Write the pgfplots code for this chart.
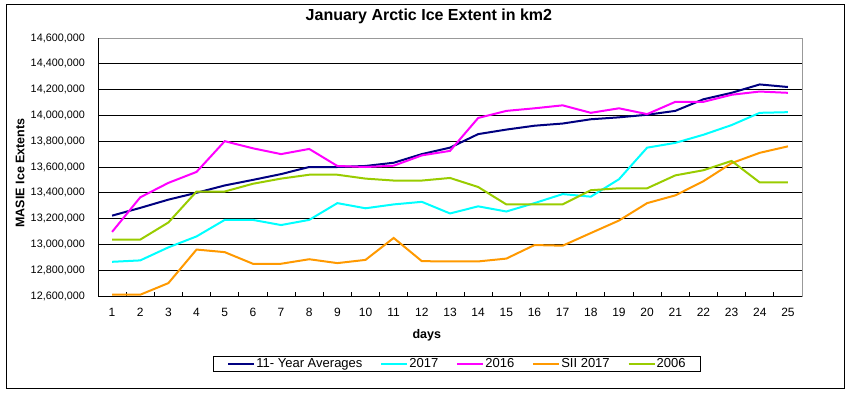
\documentclass[border=0pt]{standalone}
\usepackage{fontspec}
\setmainfont{Liberation Sans}
\usepackage{pgfplots}
\pgfplotsset{compat=1.18}
\definecolor{cavg}{RGB}{0,0,128}
\definecolor{c2017}{RGB}{0,255,255}
\definecolor{c2016}{RGB}{255,0,255}
\definecolor{csii}{RGB}{255,153,0}
\definecolor{c2006}{RGB}{153,204,0}
\begin{document}
\begin{tikzpicture}
\useasboundingbox (0pt,0pt) rectangle (861pt,394pt);
\draw[black, line width=1pt] (6pt,6pt) rectangle (844pt,389pt);
\begin{axis}[
  at={(98pt,98pt)}, anchor=south west,
  scale only axis, width=704pt, height=258pt,
  xmin=0.5, xmax=25.5, ymin=12600000, ymax=14600000,
  xtick={1,...,25},
  minor xtick={1.5,2.5,...,24.5},
  ytick={12600000,12800000,13000000,13200000,13400000,13600000,13800000,14000000,14200000,14400000,14600000},
  xtick pos=left, ytick pos=left,
  major tick length=0pt, minor tick length=4pt,
  minor tick style={black, line width=0.8pt},
  ymajorgrids=true,
  major grid style={black, line width=0.8pt},
  axis line style={draw=gray!80, line width=1pt},
  scaled y ticks=false,
  /pgf/number format/assume math mode=true,
  yticklabel style={/pgf/number format/fixed, /pgf/number format/1000 sep={,}, anchor=east, inner sep=0pt, xshift=-13pt, font=\fontsize{10.8}{12}\selectfont},
  xticklabel style={anchor=center, yshift=-16pt, font=\fontsize{12}{14}\selectfont},
  title={January Arctic Ice Extent in km2},
  title style={font=\bfseries\fontsize{16}{19}\selectfont, at={(axis description cs:0.47,1)}, anchor=center, yshift=16pt},
  xlabel={days},
  xlabel style={font=\bfseries\fontsize{12.5}{15}\selectfont, at={(axis description cs:0.467,0)}, anchor=center, yshift=-39pt},
  ylabel={MASIE Ice Extents},
  ylabel style={font=\bfseries\fontsize{12.5}{15}\selectfont, at={(axis description cs:-0.1108,0.477)}, anchor=center},
  legend columns=5,
  legend cell align=left,
  legend image code/.code={\draw[#1] (0pt,0pt) -- (26pt,0pt);},
  legend style={at={(axis description cs:0.51,0)}, yshift=-68pt, anchor=center,
    draw=black, line width=1pt, inner xsep=14pt, inner ysep=1pt,
    font=\fontsize{13}{15}\selectfont,
    nodes={inner sep=1pt},
    /tikz/every even column/.append style={column sep=17pt}},
  every axis plot/.append style={line width=2pt},
]
\draw[black, line width=1pt] (rel axis cs:0,1) -- (rel axis cs:0,0) -- (rel axis cs:1,0);
\addplot[cavg] coordinates {(1,13223000)(2,13283000)(3,13347000)(4,13400000)(5,13457000)(6,13500000)(7,13545000)(8,13600000)(9,13600000)(10,13608000)(11,13633000)(12,13700000)(13,13750000)(14,13855000)(15,13890000)(16,13920000)(17,13937000)(18,13970000)(19,13985000)(20,14005000)(21,14035000)(22,14125000)(23,14175000)(24,14240000)(25,14220000)};
\addlegendentry{11- Year Averages}
\addplot[c2017] coordinates {(1,12865000)(2,12876000)(3,12977000)(4,13062000)(5,13190000)(6,13190000)(7,13150000)(8,13190000)(9,13320000)(10,13280000)(11,13310000)(12,13330000)(13,13240000)(14,13295000)(15,13255000)(16,13320000)(17,13390000)(18,13370000)(19,13505000)(20,13750000)(21,13787000)(22,13850000)(23,13925000)(24,14020000)(25,14025000)};
\addlegendentry{2017}
\addplot[c2016] coordinates {(1,13097000)(2,13365000)(3,13477000)(4,13562000)(5,13800000)(6,13745000)(7,13700000)(8,13740000)(9,13608000)(10,13600000)(11,13610000)(12,13690000)(13,13725000)(14,13980000)(15,14035000)(16,14055000)(17,14078000)(18,14020000)(19,14055000)(20,14010000)(21,14105000)(22,14105000)(23,14160000)(24,14185000)(25,14175000)};
\addlegendentry{2016}
\addplot[csii] coordinates {(1,12610000)(2,12610000)(3,12700000)(4,12960000)(5,12940000)(6,12850000)(7,12850000)(8,12885000)(9,12855000)(10,12880000)(11,13050000)(12,12870000)(13,12868000)(14,12868000)(15,12890000)(16,12995000)(17,12990000)(18,13088000)(19,13185000)(20,13320000)(21,13380000)(22,13490000)(23,13630000)(24,13710000)(25,13760000)};
\addlegendentry{SII 2017}
\addplot[c2006] coordinates {(1,13037000)(2,13037000)(3,13170000)(4,13410000)(5,13410000)(6,13470000)(7,13510000)(8,13540000)(9,13540000)(10,13510000)(11,13495000)(12,13495000)(13,13515000)(14,13445000)(15,13310000)(16,13310000)(17,13310000)(18,13420000)(19,13435000)(20,13435000)(21,13535000)(22,13575000)(23,13647000)(24,13480000)(25,13480000)};
\addlegendentry{2006}
\end{axis}
\end{tikzpicture}
\end{document}
